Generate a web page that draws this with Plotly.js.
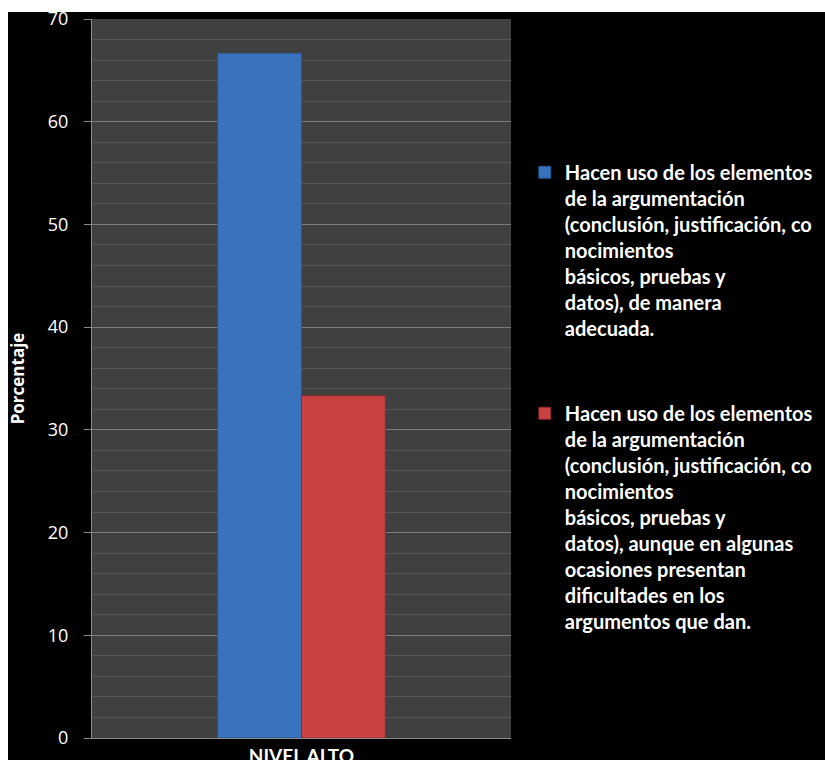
<!DOCTYPE html>
<html>
<head>
<meta charset="utf-8">
<script src="https://cdn.plot.ly/plotly-3.0.1.min.js"></script>
<style>
html, body { margin: 0; padding: 0; background: #ffffff; width: 825px; height: 760px; overflow: hidden; }
#chart { position: absolute; left: 0; top: 0; width: 825px; height: 760px; }
.strip { position: absolute; background: #ffffff; z-index: 10; }
</style>
</head>
<body>
<div id="chart"></div>
<div class="strip" style="left:0;top:0;width:825px;height:12px;"></div>
<div class="strip" style="left:0;top:0;width:8px;height:760px;"></div>
<script>
const categories = ['NIVEL ALTO'];
const seriesNames = [
  'Hacen uso de los elementos<br>de la argumentación<br>(conclusión, justificación, co<br>nocimientos<br>básicos, pruebas y<br>datos), de manera<br>adecuada.',
  'Hacen uso de los elementos<br>de la argumentación<br>(conclusión, justificación, co<br>nocimientos<br>básicos, pruebas y<br>datos), aunque en algunas<br>ocasiones presentan<br>dificultades en los<br>argumentos que dan.'
];
const adecuadaValues = [66.67];
const dificultadesValues = [33.33];
const yTickValues = [0, 10, 20, 30, 40, 50, 60, 70];

const FONT = '"Open Sans", Lato, sans-serif';
const LEG_FONT = 'Lato, "Open Sans", sans-serif';

const traces = [
  {
    type: 'bar', x: categories, y: adecuadaValues, name: seriesNames[0],
    legendgroup: 'g1',
    marker: { color: '#3a73bd', line: { color: '#2a558f', width: 1 } }
  },
  {
    type: 'bar', x: categories, y: dificultadesValues, name: seriesNames[1],
    legendgroup: 'g2',
    marker: { color: '#c94240', line: { color: '#8c2b2a', width: 1 } }
  }
];

const layout = {
  width: 825, height: 760,
  paper_bgcolor: '#000000',
  plot_bgcolor: '#404040',
  margin: { l: 92, r: 314, t: 19, b: 22, autoexpand: false },
  barmode: 'group',
  bargap: 0.6,
  bargroupgap: 0,
  showlegend: true,
  hovermode: false,
  font: { family: FONT, color: '#ffffff' },
  xaxis: {
    type: 'category',
    showgrid: false,
    zeroline: false,
    showline: true, linecolor: '#8a8a8a', linewidth: 1,
    ticks: '',
    tickfont: { family: LEG_FONT, size: 19, color: '#ffffff', weight: 'bold' },
    ticklabelstandoff: 1
  },
  yaxis: {
    range: [0, 70],
    tickvals: yTickValues,
    showgrid: true, gridcolor: '#7c7c7c', gridwidth: 1,
    zeroline: false,
    showline: true, linecolor: '#8a8a8a', linewidth: 1,
    ticks: 'outside', ticklen: 7, tickcolor: '#8a8a8a',
    ticklabelstandoff: 12,
    tickfont: { family: FONT, size: 18, color: '#ffffff' },
    minor: { dtick: 2, tick0: 0, showgrid: true, gridcolor: '#575757', gridwidth: 1, ticks: '' },
    title: { text: 'Porcentaje', font: { family: FONT, size: 17, color: '#ffffff', weight: 'bold' }, standoff: 18 }
  },
  legend: {
    x: 1.033, xref: 'paper', xanchor: 'left',
    y: 0.814, yanchor: 'top',
    bgcolor: 'rgba(0,0,0,0)',
    font: { family: LEG_FONT, size: 20, color: '#ffffff', weight: 'bold' },
    valign: 'top',
    traceorder: 'grouped',
    tracegroupgap: 56,
    itemclick: false
  }
};

Plotly.newPlot('chart', traces, layout, { staticPlot: true, displayModeBar: false });
</script>
</body>
</html>
